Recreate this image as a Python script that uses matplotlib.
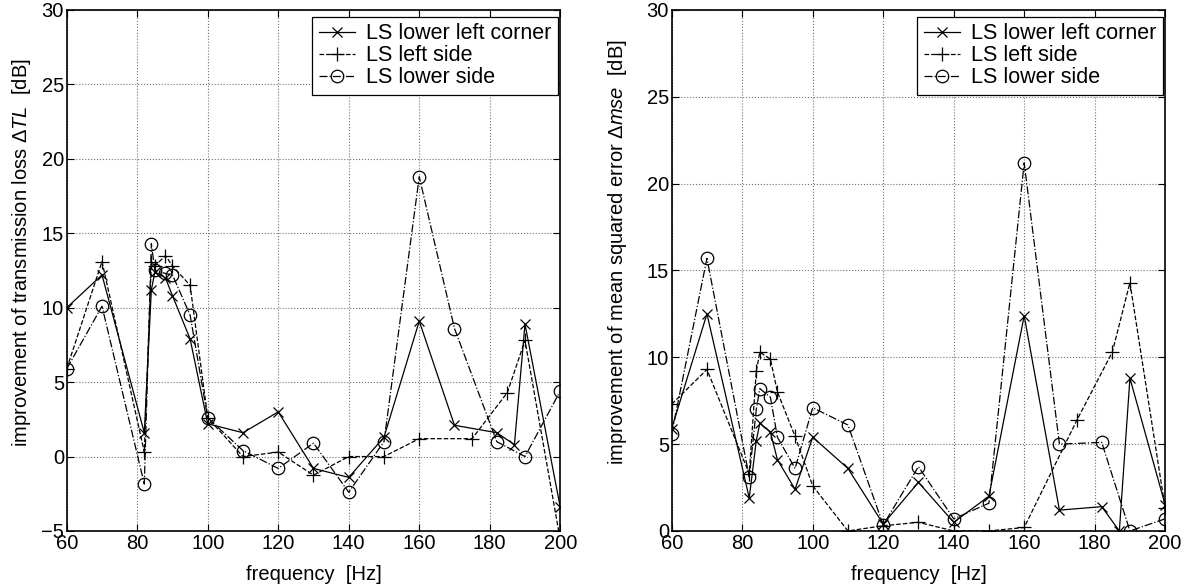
import matplotlib
matplotlib.use("Agg")
import matplotlib.pyplot as plt
import numpy as np

plt.rcParams["font.family"] = ["Liberation Sans", "DejaVu Sans"]
plt.rcParams["mathtext.fontset"] = "custom"
plt.rcParams["mathtext.rm"] = "Liberation Sans"
plt.rcParams["mathtext.it"] = "Liberation Sans:italic"

# frequencies per series [Hz]
f_corner = [60, 70, 82, 84, 85, 88, 90, 95, 100, 110, 120, 130, 140, 150, 160, 170, 182, 187, 190, 200]
f_left = [60, 70, 82, 84, 85, 88, 90, 95, 100, 110, 120, 130, 140, 150, 160, 175, 185, 190, 200]
f_lower = [60, 70, 82, 84, 85, 88, 90, 95, 100, 110, 120, 130, 140, 150, 160, 170, 182, 190, 200]

# improvement of transmission loss [dB]
tl_corner = [10.0, 12.2, 1.6, 11.2, 12.4, 12.0, 10.8, 7.9, 2.2, 1.6, 3.0, -0.8, -1.4, 1.3, 9.1, 2.1, 1.6, 0.8, 8.9, -3.4]
tl_left = [5.9, 13.1, 0.3, 13.1, 12.8, 13.5, 12.8, 11.5, 2.6, 0.0, 0.3, -1.25, 0.0, 0.0, 1.2, 1.2, 4.3, 7.8, -5.6]
tl_lower = [5.9, 10.1, -1.85, 14.3, 12.5, 12.3, 12.2, 9.5, 2.6, 0.4, -0.8, 0.9, -2.4, 1.0, 18.8, 8.6, 1.0, 0.0, 4.4]

# improvement of mean squared error [dB]
mse_corner = [5.9, 12.5, 1.9, 5.2, 6.2, 5.7, 4.1, 2.4, 5.4, 3.6, 0.4, 2.8, 0.5, 2.0, 12.4, 1.2, 1.4, 0.0, 8.8, 1.5]
mse_left = [7.3, 9.3, 3.3, 9.2, 10.3, 9.9, 8.0, 5.45, 2.6, 0.0, 0.3, 0.5, 0.0, 0.0, 0.2, 6.4, 10.3, 14.3, 1.3]
mse_lower = [5.6, 15.7, 3.1, 7.0, 8.2, 7.7, 5.4, 3.6, 7.1, 6.1, 0.35, 3.7, 0.7, 1.6, 21.2, 5.0, 5.1, 0.0, 0.7]

labels = ["LS lower left corner", "LS left side", "LS lower side"]
xticks = [60, 80, 100, 120, 140, 160, 180, 200]

fig = plt.figure(figsize=(11.92, 5.88), dpi=100)
ax1 = fig.add_axes([0.056, 0.097, 0.414, 0.886])
ax2 = fig.add_axes([0.5635, 0.097, 0.414, 0.886])


def draw(ax, ys, ylim, yticks, ylabel, ylab_x):
    ax.plot(f_corner, ys[0], "-", marker="x", color="k", lw=0.9, ms=7, mew=0.9, label=labels[0])
    ax.plot(f_left, ys[1], "--", marker="+", color="k", lw=0.9, ms=10, mew=0.9, label=labels[1])
    ax.plot(f_lower, ys[2], "-.", marker="o", color="k", lw=0.9, ms=9, mew=0.9,
            mfc="none", label=labels[2])
    ax.set_xlim(60, 200)
    ax.set_ylim(*ylim)
    ax.set_xticks(xticks)
    ax.set_yticks(yticks)
    ax.grid(True, color="0.45", linestyle=":", lw=0.8)
    ax.tick_params(direction="in", top=True, right=True, labelsize=14.5, length=5, pad=2)
    for s in ax.spines.values():
        s.set_linewidth(1.2)
    ax.set_xlabel("frequency  [Hz]", fontsize=14.5)
    ax.xaxis.set_label_coords(0.5, -0.065)
    ax.set_ylabel(ylabel, fontsize=14.5)
    ax.yaxis.set_label_coords(ylab_x, 0.535)
    leg = ax.legend(loc="upper right", bbox_to_anchor=(0.995, 0.987), borderaxespad=0,
                    fontsize=15.5, handlelength=1.7, fancybox=False, edgecolor="k",
                    framealpha=1, labelspacing=0.05, borderpad=0.3, handletextpad=0.5)
    leg.get_frame().set_linewidth(0.9)


draw(ax1, [tl_corner, tl_left, tl_lower], (-5, 30), range(-5, 31, 5),
     "improvement of transmission loss Δ$\\mathit{TL}$  [dB]", -0.068)
draw(ax2, [mse_corner, mse_left, mse_lower], (0, 30), range(0, 31, 5),
     "improvement of mean squared error Δ$\\mathit{mse}$  [dB]", -0.086)

fig.savefig("out.png", dpi=100)
